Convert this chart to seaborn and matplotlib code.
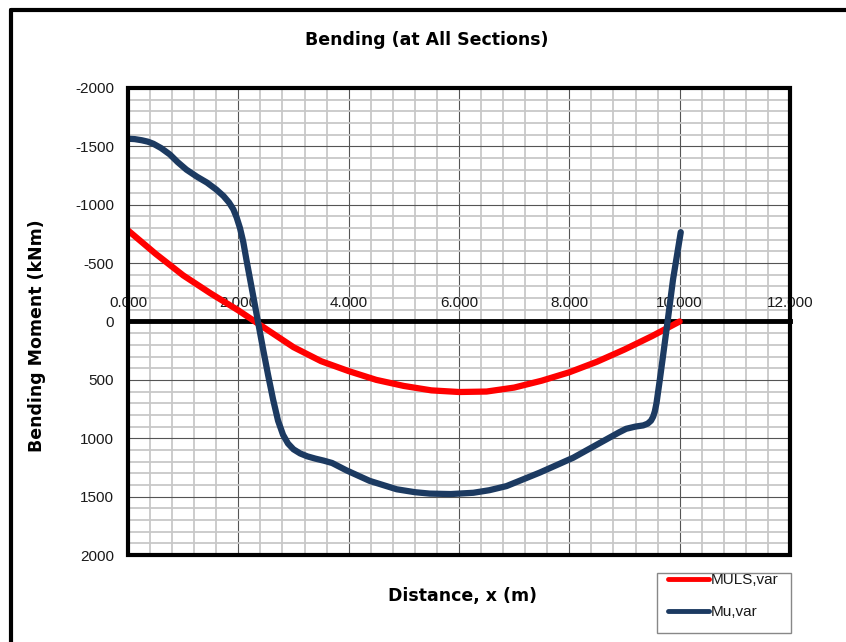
import numpy as np
import pandas as pd
import matplotlib.pyplot as plt
import seaborn as sns
from matplotlib.patches import Rectangle
from matplotlib.lines import Line2D

# MULS,var (red)
dist_muls = [0.0, 0.5, 1.0, 1.5, 2.0, 2.5, 3.0, 3.5, 4.0, 4.5, 5.0,
             5.5, 6.0, 6.5, 7.0, 7.5, 8.0, 8.5, 9.0, 9.5, 10.0]
muls = [-780, -580, -395, -240, -95, 63, 220, 340, 425, 500, 552,
        590, 604, 600, 566, 507, 435, 345, 240, 125, 0]

# Mu,var (dark blue)
dist_mu = [0.0, 0.12, 0.25, 0.36, 0.46, 0.6, 0.76, 0.9, 1.06, 1.25, 1.43,
           1.6, 1.73, 1.83, 1.91, 1.97, 2.03, 2.09, 2.15, 2.27, 2.36, 2.45,
           2.54, 2.63, 2.72, 2.81, 2.9, 3.0, 3.12, 3.25, 3.4, 3.55, 3.7,
           3.96, 4.38, 4.87, 5.2, 5.47, 5.85, 6.26, 6.55, 6.86, 7.46, 8.07,
           8.67, 8.9, 9.03, 9.2, 9.34, 9.42, 9.48, 9.52, 9.55, 9.58, 9.64,
           9.70, 9.77, 9.88, 10.02]
mu = [-1565, -1562, -1552, -1540, -1522, -1485, -1430, -1365, -1300, -1240, -1190,
      -1130, -1075, -1020, -960, -890, -800, -680, -520, -217, 11, 240,
      460, 668, 850, 970, 1045, 1095, 1130, 1155, 1175, 1192, 1212,
      1275, 1365, 1437, 1462, 1474, 1478, 1467, 1445, 1410, 1295, 1167,
      1010, 950, 919, 900, 890, 875, 850, 815, 770, 700, 500,
      290, 40, -360, -765]

x_ticks = [0, 2, 4, 6, 8, 10, 12]
x_labels = ['0.000', '2.000', '4.000', '6.000', '8.000', '10.000', '12.000']
y_ticks = [-2000, -1500, -1000, -500, 0, 500, 1000, 1500, 2000]

df_muls = pd.DataFrame({'x': dist_muls, 'M': muls})
df_mu = pd.DataFrame({'x': dist_mu, 'M': mu})

sns.set_style('white')
plt.rcParams['font.family'] = ['Liberation Sans', 'DejaVu Sans']
plt.rcParams['axes.unicode_minus'] = False

fig = plt.figure(figsize=(8.46, 6.42), dpi=100)
ax = fig.add_axes([0.1513, 0.1355, 0.7825, 0.7275])

# grid like the Excel chart
ax.set_axisbelow(True)
ax.set_xticks(x_ticks)
ax.set_xticks(np.arange(0, 12.01, 0.4), minor=True)
ax.set_yticks(y_ticks)
ax.set_yticks(np.arange(-2000, 2001, 100), minor=True)
ax.grid(which='minor', color='#c8c8c8', lw=1.3)
ax.grid(which='major', color='#555555', lw=0.8)

sns.lineplot(data=df_muls, x='x', y='M', ax=ax, color='#ff0000', lw=4.5,
             estimator=None, sort=False, label='MULS,var', legend=False, zorder=4,
             solid_joinstyle='round', solid_capstyle='round')
sns.lineplot(data=df_mu, x='x', y='M', ax=ax, color='#1c3a61', lw=4.5,
             estimator=None, sort=False, label='Mu,var', legend=False, zorder=4,
             solid_joinstyle='round', solid_capstyle='round')

ax.set_xlim(0, 12)
ax.set_ylim(2000, -2000)

# x axis sits on the zero line
for s in ['left', 'top', 'right']:
    ax.spines[s].set_visible(False)
ax.spines['bottom'].set_position(('data', 0))
ax.spines['bottom'].set_linewidth(3.5)
ax.spines['bottom'].set_color('black')
ax.spines['bottom'].set_zorder(3)
ax.add_patch(Rectangle((0, 0), 1, 1, transform=ax.transAxes, fill=False,
                       lw=3, edgecolor='black', zorder=5, clip_on=False))

ax.tick_params(axis='x', which='major', direction='inout', length=6, width=3,
               color='black', labelbottom=False)
ax.tick_params(axis='y', which='major', direction='inout', length=6, width=3,
               color='black', labelsize=11, labelcolor='#1a1a1a', pad=7)
ax.tick_params(which='minor', length=0)
ax.set_yticklabels([str(v) for v in y_ticks])
ax.set_xlabel('')
ax.set_ylabel('')

for xv, lab in zip(x_ticks, x_labels):
    ax.annotate(lab, xy=(xv, 0), xytext=(0, 13), textcoords='offset points',
                ha='center', va='center', fontsize=11, color='#1a1a1a',
                zorder=2.5, annotation_clip=False)

fig.text(0.505, 0.938, 'Bending (at All Sections)', ha='center', va='center',
         fontsize=12.5, fontweight='bold', family='DejaVu Sans', color='black')
fig.text(0.547, 1 - 596 / 642, 'Distance, x (m)', ha='center', va='center',
         fontsize=12.5, fontweight='bold', family='DejaVu Sans', color='black')
fig.text(37 / 846, 1 - 336 / 642, 'Bending Moment (kNm)', ha='center', va='center',
         rotation=90, fontsize=12.5, fontweight='bold', family='DejaVu Sans',
         color='black')

# legend box drawn like Excel's (extra space below the entries)
fig.add_artist(Rectangle((657 / 846, 1 - 633 / 642), 134 / 846, 60 / 642,
                         transform=fig.transFigure, fill=False,
                         edgecolor='#888888', lw=1))
leg = fig.legend(loc='upper left', bbox_to_anchor=(668 / 846, 1 - 573 / 642),
                 fontsize=11, frameon=False, handlelength=2.7, handletextpad=0.1,
                 labelspacing=1.2, borderpad=0, borderaxespad=0)
for t in leg.get_texts():
    t.set_color('#1a1a1a')
for h in leg.get_lines():
    h.set_linewidth(3.5)

# outer chart border (left and top visible)
fig.add_artist(Line2D([11 / 846, 11 / 846], [0, 1 - 10 / 642], color='black', lw=3))
fig.add_artist(Line2D([11 / 846, 1], [1 - 10 / 642, 1 - 10 / 642], color='black', lw=3))

fig.savefig('out.png', dpi=100)
